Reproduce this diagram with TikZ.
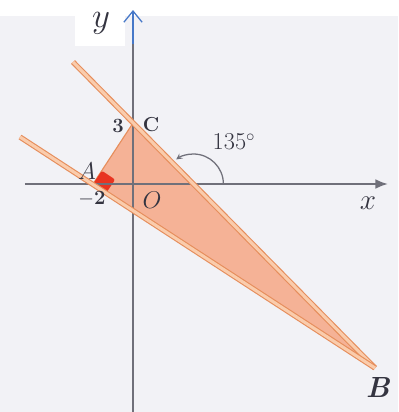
\documentclass[tikz,border=0pt]{standalone}
\usetikzlibrary{arrows.meta}
\begin{document}
\begin{tikzpicture}[x=0.5cm,y=0.5cm]
    \definecolor{paper}{RGB}{242,242,246};
    \definecolor{axisgray}{RGB}{112,112,122};
    \definecolor{labelgray}{RGB}{52,52,64};
    \definecolor{salmon}{RGB}{245,178,150};
    \definecolor{edge}{RGB}{230,142,92};
    \definecolor{peach}{RGB}{250,204,172};
    \definecolor{marker}{RGB}{232,52,32};
    \definecolor{axisblue}{RGB}{70,120,200};
\tikzset{lbl/.style={text=labelgray,inner sep=1pt},
         halfline/.style={draw=edge,line width=0.8pt,double=peach,double distance=2.2pt}}
% background
\fill [paper] (-6.65,-11.4) rectangle (13.25,9.2);
\fill [white] (-6.65,8.4) rectangle (13.25,9.2);
\fill [white] (-2.9,6.9) rectangle (-0.4,9.2);
\useasboundingbox (-6.65,-11.4) rectangle (13.25,9.2);
% points
\coordinate (O) at (0,0);
\coordinate (A) at (-2,0);
\coordinate (C) at (0,3.05);
\coordinate (B) at (12.1,-9.2);
\coordinate (P) at (-3,6.1);
\coordinate (Q) at (-5.65,2.35);
\coordinate (M) at (3.02,0);
\coordinate (xl) at (-5.4,0);
\coordinate (xr) at (12.75,0);
\coordinate (yb) at (0,-11.4);
\coordinate (yt) at (0,7.2);
\coordinate (yy) at (0,8.7);
% triangle
\fill [salmon] (A)--(C)--(B)--cycle;
\draw [edge,line width=0.8pt] (A)--(C);
\fill [marker,rounded corners=1.5pt] (A)--(-1.335,-0.444)--(-0.891,0.221)--(-1.556,0.666)--cycle;
% axes
\draw [axisgray,line width=1.4pt,-{Latex[length=9pt,width=7pt]}] (xl)--(xr);
\draw [axisgray,line width=1.4pt] (yb)--(yt);
\draw [axisblue,line width=0.9pt,-{Straight Barb[length=8pt,width=13pt]}] (0,7.0)--(yy);
% the two lines
\draw [halfline] (P)--(B);
\draw [halfline] (Q)--(B);
% angle
\draw [axisgray,line width=0.9pt,-stealth] ([shift={(0:1.5)}]M) arc (0:125:1.5);
% labels
\node [lbl,font=\Huge] (ylab) at (-1.6,8.05) {$y$};
\node [lbl,font=\huge] (xlab) at (11.75,-0.95) {$x$};
\node [lbl,font=\LARGE] (olab) at (0.95,-0.8) {$O$};
\node [lbl,font=\LARGE] (alab) at (-2.3,0.65) {$A$};
\node [lbl,font=\huge] (blab) at (12.25,-10.15) {\textbf{\textit{B}}};
\node [lbl,font=\Large] (clab) at (0.9,2.95) {\textbf{C}};
\node [lbl,font=\Large] (three) at (-0.75,2.9) {\textbf{3}};
\node [lbl,font=\Large] (mtwo) at (-2.05,-0.75) {$\mathbf{-2}$};
\node [lbl,font=\LARGE] (ang) at (5.05,2.1) {135$^\circ$};
\end{tikzpicture}
\end{document}
